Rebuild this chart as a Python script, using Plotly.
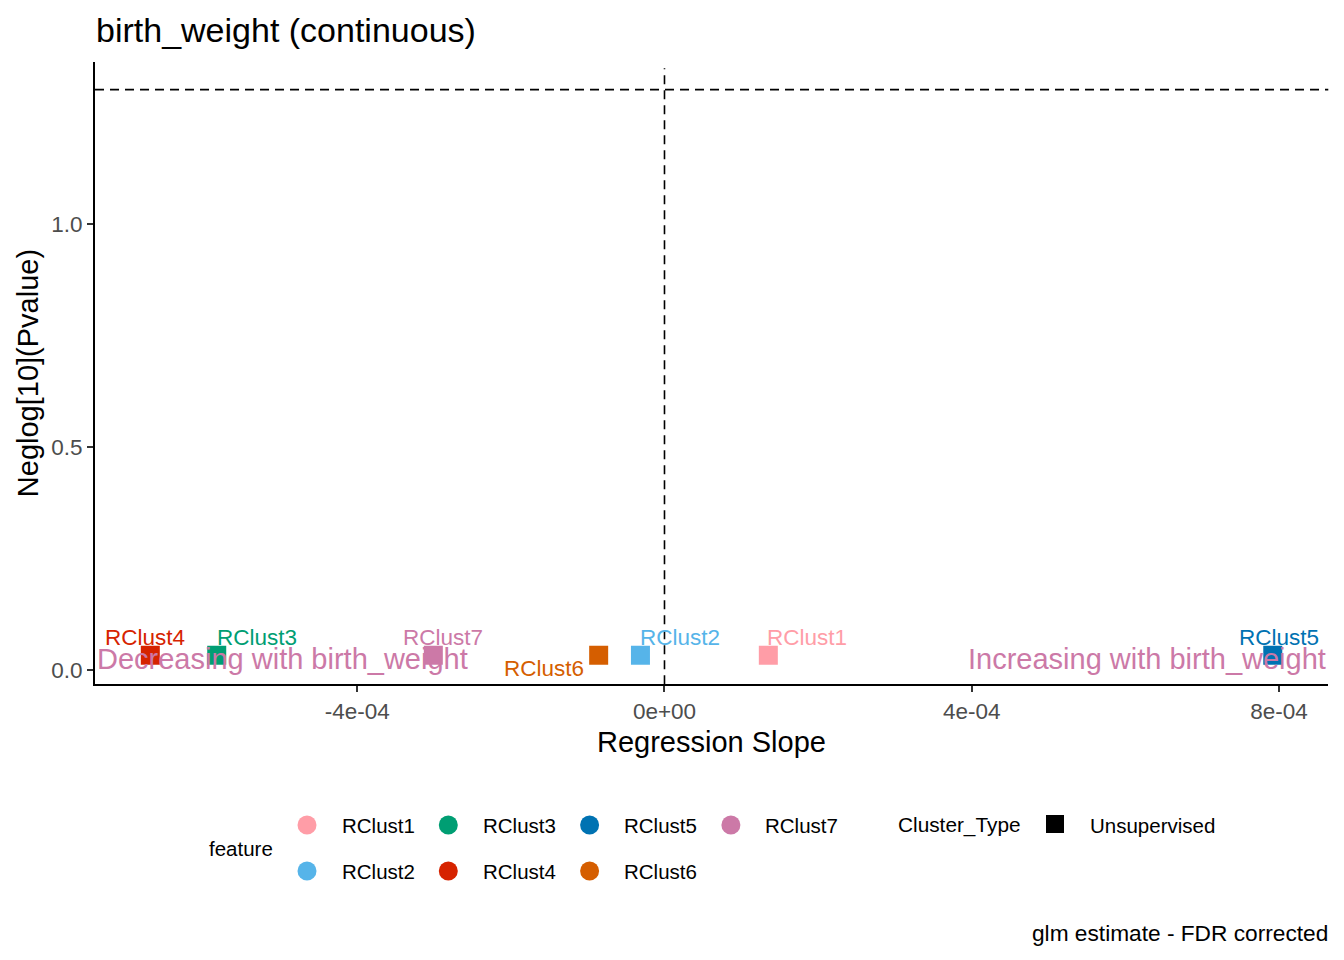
import plotly.graph_objects as go

# ---------------- data ----------------
features = ["RClust1", "RClust2", "RClust3", "RClust4", "RClust5", "RClust6", "RClust7"]
slopes = [1.352e-4, -3.13e-5, -5.83e-4, -6.695e-4, 7.92e-4, -8.57e-5, -3.01e-4]
neglog_p = [0.0332, 0.0332, 0.0332, 0.0332, 0.0332, 0.0332, 0.0332]
cluster_type = ["Unsupervised"] * 7
feature_colors = ["#FF9DA7", "#56B4E9", "#009E73", "#D62300", "#0072B2", "#D55E00", "#CC79A7"]
x_ticks = [-4e-4, 0.0, 4e-4, 8e-4]
x_tick_labels = ["-4e-04", "0e+00", "4e-04", "8e-04"]
y_ticks = [0.0, 0.5, 1.0]
y_tick_labels = ["0.0", "0.5", "1.0"]
p_threshold = 0.05
trait = "birth_weight"

# ---------------- layout constants ----------------
W, H = 1344, 960
L, R, T, B = 95, 1328.3, 62, 684.3
FONT = "Liberation Sans, Arial, sans-serif"
x_range = [-7.415e-4, 8.643e-4]
y_range = [-0.032, 1.363]
thr_y = 1.30103  # -log10(0.05)

# label offsets (pixels) from the points, mimicking repelled labels
label_offsets = {
    "RClust1": (39, 18), "RClust2": (40, 18), "RClust3": (40, 18),
    "RClust4": (-5.5, 18), "RClust5": (6, 18), "RClust6": (-55, -13),
    "RClust7": (10, 18),
}


def px(x):
    return x / W


def py(y):
    return 1 - y / H


fig = go.Figure()

for f, s, p, c in zip(features, slopes, neglog_p, feature_colors):
    fig.add_trace(go.Scatter(
        x=[s], y=[p], mode="markers", name=f, showlegend=False,
        marker=dict(symbol="square", size=19, color=c, line=dict(width=0)),
        xaxis="x", yaxis="y",
    ))

annotations = []
for f, s, p, c in zip(features, slopes, neglog_p, feature_colors):
    dx, dy = label_offsets[f]
    annotations.append(dict(
        x=s, y=p, xref="x", yref="y", text=f, showarrow=False,
        xshift=dx, yshift=dy, xanchor="center", yanchor="middle",
        font=dict(family=FONT, size=22.5, color=c),
    ))

# direction annotations
annotations.append(dict(
    x=0, xref="x domain", y=0.024, yref="y", text=f"Decreasing with {trait}",
    showarrow=False, xanchor="left", yanchor="middle",
    font=dict(family=FONT, size=29, color="#CC79A7"),
))
annotations.append(dict(
    x=1, xref="x domain", y=0.024, yref="y", text=f"Increasing with {trait}",
    showarrow=False, xanchor="right", yanchor="middle",
    font=dict(family=FONT, size=29, color="#CC79A7"),
))

# titles
annotations.append(dict(
    x=px(94), y=py(30), xref="paper", yref="paper", text=f"{trait} (continuous)",
    showarrow=False, xanchor="left", yanchor="middle",
    font=dict(family=FONT, size=34, color="black"),
))
annotations.append(dict(
    x=px((L + R) / 2), y=py(742), xref="paper", yref="paper", text="Regression Slope",
    showarrow=False, xanchor="center", yanchor="middle",
    font=dict(family=FONT, size=29, color="black"),
))
annotations.append(dict(
    x=px(28), y=py((T + B) / 2), xref="paper", yref="paper", text="Neglog[10](Pvalue)",
    showarrow=False, xanchor="center", yanchor="middle", textangle=-90,
    font=dict(family=FONT, size=29, color="black"),
))
annotations.append(dict(
    x=px(1329.5), y=py(933), xref="paper", yref="paper", text="glm estimate - FDR corrected",
    showarrow=False, xanchor="right", yanchor="middle",
    font=dict(family=FONT, size=22.7, color="black"),
))

# ---------------- legend (drawn on an overlay axis in pixel units) ----------------
LEG_X0, LEG_DX, LEG_Y0, LEG_DY, TXT_OFF = 307, 141.3, 825, 46, 32.5
leg_x = [LEG_X0 + (i // 2) * LEG_DX for i in range(len(features))]
leg_y = [LEG_Y0 + (i % 2) * LEG_DY for i in range(len(features))]
fig.add_trace(go.Scatter(
    x=leg_x, y=leg_y, mode="markers", showlegend=False, hoverinfo="skip",
    marker=dict(symbol="circle", size=19, color=feature_colors, line=dict(width=0)),
    xaxis="x2", yaxis="y2",
))
for f, lx, ly in zip(features, leg_x, leg_y):
    annotations.append(dict(
        x=px(lx + TXT_OFF), y=py(ly), xref="paper", yref="paper", text=f,
        showarrow=False, xanchor="left", yanchor="middle",
        font=dict(family=FONT, size=20.5, color="black"),
    ))
annotations.append(dict(
    x=px(206.5), y=py(848), xref="paper", yref="paper", text="feature",
    showarrow=False, xanchor="left", yanchor="middle",
    font=dict(family=FONT, size=20.5, color="black"),
))
annotations.append(dict(
    x=px(895.5), y=py(825), xref="paper", yref="paper", text="Cluster_Type",
    showarrow=False, xanchor="left", yanchor="middle",
    font=dict(family=FONT, size=20.8, color="black"),
))
ct_levels = sorted(set(cluster_type))
fig.add_trace(go.Scatter(
    x=[1055] * len(ct_levels), y=[824] * len(ct_levels), mode="markers",
    showlegend=False, hoverinfo="skip",
    marker=dict(symbol="square", size=18, color="black"),
    xaxis="x2", yaxis="y2",
))
for lvl in ct_levels:
    annotations.append(dict(
        x=px(1087.5), y=py(825), xref="paper", yref="paper", text=lvl,
        showarrow=False, xanchor="left", yanchor="middle",
        font=dict(family=FONT, size=20.5, color="black"),
    ))

shapes = [
    dict(type="line", xref="x", yref="y domain", x0=0, x1=0, y0=0, y1=0.99,
         line=dict(color="black", width=1.6, dash="9px,6px")),
    dict(type="line", xref="x domain", yref="y", x0=0, x1=1, y0=thr_y, y1=thr_y,
         line=dict(color="black", width=1.6, dash="9px,6px")),
]

axis_common = dict(
    showgrid=False, zeroline=False, showline=True, linecolor="black", linewidth=2,
    ticks="outside", ticklen=6, tickwidth=1.6, tickcolor="#333333",
    tickfont=dict(family=FONT, size=22.5, color="#4D4D4D"), automargin=False,
)

fig.update_layout(
    width=W, height=H,
    margin=dict(l=0, r=0, t=0, b=0),
    paper_bgcolor="white", plot_bgcolor="rgba(0,0,0,0)",
    showlegend=False,
    xaxis=dict(domain=[px(L), px(R)], range=x_range, tickvals=x_ticks,
               ticktext=x_tick_labels, anchor="y", **axis_common),
    yaxis=dict(domain=[py(B), py(T)], range=y_range, tickvals=y_ticks,
               ticktext=y_tick_labels, anchor="x", **axis_common),
    xaxis2=dict(domain=[0, 1], range=[0, W], visible=False, anchor="y2", fixedrange=True),
    yaxis2=dict(domain=[0, 1], range=[H, 0], visible=False, anchor="x2", fixedrange=True),
    annotations=annotations,
    shapes=shapes,
)

fig.write_html("out.html", config={"displayModeBar": False},
               post_script="document.body.style.margin='0';")
